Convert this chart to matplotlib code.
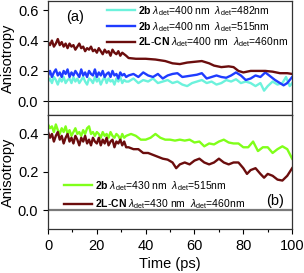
import numpy as np
import matplotlib
matplotlib.use("Agg")
import matplotlib.pyplot as plt
from matplotlib.ticker import MultipleLocator

plt.rcParams["font.family"] = ["Liberation Sans", "DejaVu Sans"]
plt.rcParams["mathtext.fontset"] = "custom"
plt.rcParams["mathtext.rm"] = "Liberation Sans"
plt.rcParams["mathtext.bf"] = "Liberation Sans:bold"
plt.rcParams["mathtext.it"] = "Liberation Sans:italic"

# dense sampling grid of the first 32 ps
t_early = np.round(np.arange(0, 32.05, 0.8), 2)

# panel (a): excitation 400 nm
a_cn_early = [0.39, 0.37, 0.40, 0.36, 0.38, 0.41, 0.37, 0.39, 0.36, 0.38, 0.35, 0.38, 0.36, 0.37,
              0.34, 0.36, 0.38, 0.35, 0.36, 0.33, 0.35, 0.34, 0.36, 0.33, 0.34, 0.32, 0.35, 0.33,
              0.31, 0.34, 0.32, 0.33, 0.30, 0.34, 0.32, 0.31, 0.33, 0.30, 0.32, 0.31, 0.30]
a_cn_t = [33, 36, 40, 44, 48, 51, 54, 57, 60, 63, 66, 68, 71, 74, 76, 78, 80, 83, 86, 89, 92, 95,
          98, 100]
a_cn_v = [0.285, 0.28, 0.28, 0.275, 0.265, 0.25, 0.245, 0.255, 0.26, 0.265, 0.25, 0.235, 0.225,
          0.23, 0.225, 0.2, 0.19, 0.2, 0.2, 0.2, 0.195, 0.185, 0.185, 0.18]

a_515_early = [0.17, 0.20, 0.16, 0.19, 0.21, 0.17, 0.19, 0.16, 0.20, 0.18, 0.21, 0.16, 0.19, 0.17,
               0.20, 0.18, 0.16, 0.21, 0.17, 0.19, 0.16, 0.20, 0.18, 0.17, 0.21, 0.16, 0.19, 0.17,
               0.20, 0.16, 0.18, 0.19, 0.16, 0.20, 0.17, 0.18, 0.15, 0.19, 0.17, 0.18, 0.16]
a_515_t = [33, 35, 37, 39, 41, 43, 45, 47, 49, 51, 53, 55, 57, 59, 61, 63, 65, 67, 69, 71, 73, 75,
           77, 79, 81, 83, 85, 87, 89, 91, 93, 95, 96.5, 98, 100]
a_515_v = [0.17, 0.18, 0.16, 0.19, 0.17, 0.16, 0.18, 0.15, 0.17, 0.18, 0.185, 0.16, 0.165, 0.17,
           0.175, 0.185, 0.15, 0.16, 0.17, 0.16, 0.155, 0.17, 0.19, 0.17, 0.14, 0.15, 0.17, 0.16,
           0.19, 0.165, 0.14, 0.12, 0.105, 0.12, 0.16]

a_482_early = [0.13, 0.15, 0.12, 0.16, 0.14, 0.11, 0.15, 0.13, 0.16, 0.12, 0.14, 0.15, 0.12, 0.16,
               0.13, 0.15, 0.12, 0.14, 0.16, 0.13, 0.11, 0.15, 0.14, 0.12, 0.16, 0.13, 0.15, 0.11,
               0.14, 0.16, 0.12, 0.15, 0.13, 0.14, 0.11, 0.15, 0.13, 0.16, 0.12, 0.14, 0.13]
a_482_t = [33, 35, 37, 39, 41, 43, 45, 47, 49, 51, 53, 55, 57, 59, 61, 63, 65, 67, 69, 71, 73, 75,
           77, 79, 81, 83, 85, 87, 88.5, 90, 92, 94, 96, 97.5, 99, 100]
a_482_v = [0.13, 0.15, 0.12, 0.14, 0.13, 0.15, 0.12, 0.13, 0.14, 0.12, 0.13, 0.11, 0.10, 0.12,
           0.13, 0.14, 0.12, 0.13, 0.11, 0.12, 0.14, 0.13, 0.145, 0.12, 0.13, 0.12, 0.10, 0.12,
           0.07, 0.10, 0.13, 0.11, 0.12, 0.16, 0.10, 0.12]

# panel (b): excitation 430 nm
b_515_early = [0.45, 0.43, 0.44, 0.41, 0.45, 0.42, 0.40, 0.43, 0.41, 0.44, 0.40, 0.42, 0.39, 0.41,
               0.43, 0.40, 0.41, 0.39, 0.42, 0.40, 0.43, 0.44, 0.40, 0.41, 0.39, 0.41, 0.40, 0.38,
               0.41, 0.39, 0.40, 0.38, 0.41, 0.39, 0.38, 0.40, 0.39, 0.37, 0.40, 0.38, 0.39]
b_515_t = [34, 36, 38, 40, 42, 44, 46, 48, 50, 52, 54, 56, 58, 60, 62, 64, 66, 68, 70, 72, 74, 76,
           78, 80, 82, 84, 86, 88, 90, 92, 94, 96, 98, 100]
b_515_v = [0.40, 0.39, 0.37, 0.37, 0.38, 0.40, 0.38, 0.37, 0.37, 0.365, 0.37, 0.365, 0.37, 0.355,
           0.36, 0.335, 0.35, 0.345, 0.36, 0.37, 0.355, 0.35, 0.35, 0.33, 0.33, 0.36, 0.31, 0.33,
           0.33, 0.30, 0.32, 0.335, 0.32, 0.27]

b_cn_early = [0.41, 0.38, 0.40, 0.36, 0.39, 0.41, 0.37, 0.39, 0.35, 0.38, 0.40, 0.36, 0.38, 0.35,
              0.39, 0.37, 0.34, 0.38, 0.36, 0.39, 0.35, 0.37, 0.34, 0.38, 0.36, 0.35, 0.38, 0.34,
              0.37, 0.35, 0.38, 0.34, 0.36, 0.37, 0.33, 0.36, 0.35, 0.37, 0.34, 0.36, 0.33]
b_cn_t = [33, 35, 37, 39, 41, 43, 45, 47, 49, 51, 52.5, 54, 56, 58, 60, 62, 64, 66, 68, 70, 72, 74,
          76, 78, 80, 81.5, 83, 85, 87, 88.5, 90, 92, 94, 96, 98, 100]
b_cn_v = [0.33, 0.32, 0.32, 0.30, 0.30, 0.29, 0.28, 0.27, 0.265, 0.25, 0.22, 0.24, 0.25, 0.24,
          0.26, 0.27, 0.25, 0.24, 0.25, 0.27, 0.25, 0.24, 0.25, 0.25, 0.22, 0.19, 0.21, 0.22, 0.19,
          0.17, 0.19, 0.18, 0.16, 0.155, 0.18, 0.22]

LBL = r"$\lambda_{\rm det}$"
labels_a = [r"$\mathbf{2b}$ " + LBL + "=400 nm  " + LBL + "=482nm",
            r"$\mathbf{2b}$ " + LBL + "=400 nm  " + LBL + "=515nm",
            r"$\mathbf{2L}$-$\mathbf{CN}$ " + LBL + "=400 nm  " + LBL + "=460nm"]
labels_b = [r"$\mathbf{2b}$ " + LBL + "=430 nm  " + LBL + "=515nm",
            r"$\mathbf{2L}$-$\mathbf{CN}$ " + LBL + "=430 nm  " + LBL + "=460nm"]

CYAN = "#6cf2dc"
BLUE = "#1f3cff"
DARKRED = "#6b0d0d"
GREEN = "#80ff1a"
FRAME = "#333333"


def join(early, t_late, v_late):
    return np.concatenate([t_early, t_late]), np.concatenate([early, v_late])


fig = plt.figure(figsize=(3.04, 2.73), dpi=100)
ax_a = fig.add_axes([0.158, 0.579, 0.803, 0.417])
ax_b = fig.add_axes([0.158, 0.161, 0.803, 0.418])

for tt, vv, c, lab in [
    (*join(a_482_early, a_482_t, a_482_v), CYAN, labels_a[0]),
    (*join(a_515_early, a_515_t, a_515_v), BLUE, labels_a[1]),
    (*join(a_cn_early, a_cn_t, a_cn_v), DARKRED, labels_a[2]),
]:
    ax_a.plot(tt, vv, color=c, lw=1.7, label=lab)
ax_a.axhline(0, color="black", lw=0.8)

for tt, vv, c, lab in [
    (*join(b_515_early, b_515_t, b_515_v), GREEN, labels_b[0]),
    (*join(b_cn_early, b_cn_t, b_cn_v), DARKRED, labels_b[1]),
]:
    ax_b.plot(tt, vv, color=c, lw=1.7, label=lab)
ax_b.axhline(0, color="#7a7a7a", lw=1.6)

ax_a.set_ylim(-0.09, 0.66)
ax_b.set_ylim(-0.1, 0.5)
for ax in (ax_a, ax_b):
    ax.set_xlim(0, 100)
    ax.xaxis.set_major_locator(MultipleLocator(20))
    ax.xaxis.set_minor_locator(MultipleLocator(10))
    ax.yaxis.set_major_locator(MultipleLocator(0.2))
    ax.tick_params(direction="out", labelsize=10.5, length=3.5, width=0.8, colors="black")
    ax.tick_params(which="minor", direction="out", length=2, width=0.8)
    ax.tick_params(axis="x", which="both", top=False)
    ax.set_ylabel("Anisotropy", fontsize=10.5, labelpad=2)
    for s in ax.spines.values():
        s.set_color(FRAME)
        s.set_linewidth(0.9)
ax_a.tick_params(axis="x", labelbottom=False)
ax_b.set_xlabel("Time (ps)", fontsize=10.5, labelpad=3)

ax_a.legend(loc="upper right", bbox_to_anchor=(1.01, 1.03), frameon=False, fontsize=7.5,
            handlelength=2.7, handletextpad=0.3, labelspacing=0.2, borderaxespad=0.2)
ax_b.legend(loc="lower left", bbox_to_anchor=(0.04, 0.1), frameon=False, fontsize=7.5,
            handlelength=2.7, handletextpad=0.3, labelspacing=0.45, borderaxespad=0.2)

ax_a.text(0.11, 0.86, "(a)", transform=ax_a.transAxes, fontsize=10.5, ha="center", va="center")
ax_b.text(0.93, 0.25, "(b)", transform=ax_b.transAxes, fontsize=10.5, ha="center", va="center")

fig.savefig("out.png", dpi=100)
